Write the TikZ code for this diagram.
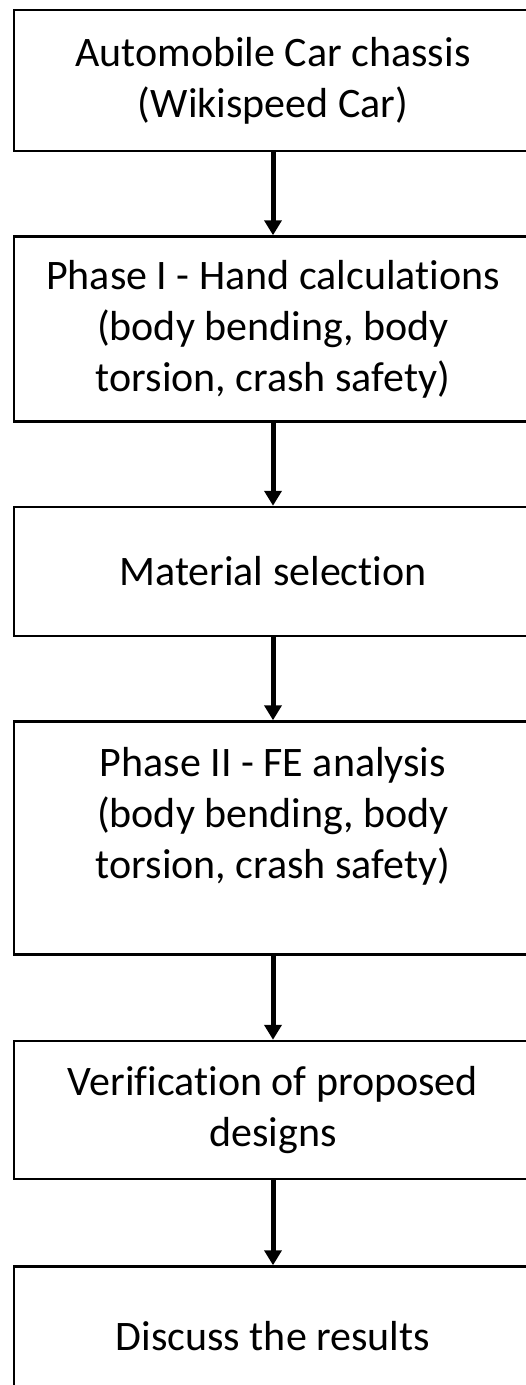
\documentclass[tikz,border=0pt]{standalone}
\usepackage{fontspec}
\setmainfont[Ligatures=NoCommon]{Carlito}
\usetikzlibrary{arrows.meta, positioning}

\begin{document}
\begin{tikzpicture}[x=1pt, y=-1pt, node distance=83pt,
    stage/.style={draw, rectangle, line width=2.5pt, minimum width=518pt, inner sep=0pt, align=center, font=\fontsize{42}{51}\selectfont},
    flow/.style={line width=5pt, -{Triangle[width=17pt, length=15pt]}}]
\clip (0,0) rectangle (526,1385);

\node[stage, minimum height=141pt] (chassis) at (273,80.5) {Automobile Car chassis\\(Wikispeed Car)};
\node[stage, minimum height=185pt, below=of chassis] (hand) {Phase I - Hand calculations\\(body bending, body\\torsion, crash safety)};
\node[stage, minimum height=129pt, below=of hand] (material) {Material selection};
\node[stage, minimum height=233pt, below=of material] (fea) {Phase II - FE analysis\\(body bending, body\\torsion, crash safety)\\~};
\node[stage, minimum height=138pt, below=84pt of fea] (verify) {Verification of proposed\\designs};
\node[stage, minimum height=140pt, below=85pt of verify] (discuss) {Discuss the results};

% Arrows
\draw[flow] (chassis) -- (hand);
\draw[flow] (hand) -- (material);
\draw[flow] (material) -- (fea);
\draw[flow] (fea) -- (verify);
\draw[flow] (verify) -- (discuss);
\end{tikzpicture}
\end{document}
